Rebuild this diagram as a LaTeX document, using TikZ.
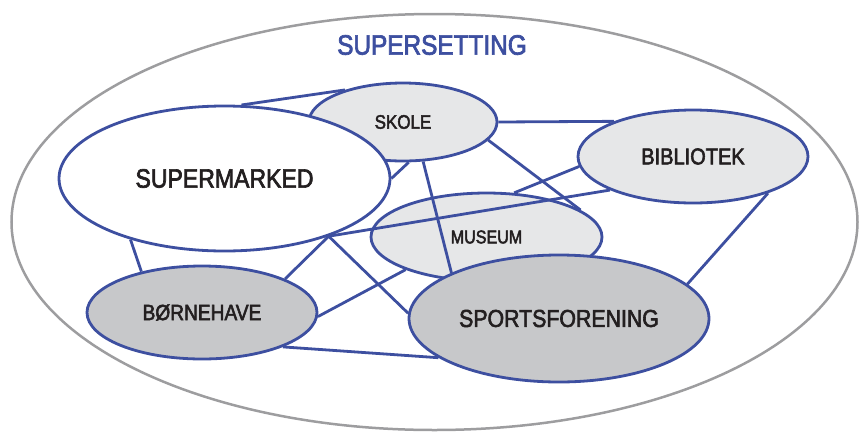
\documentclass[tikz,border=0pt]{standalone}
\usepackage{fontspec}
\setmainfont[FakeStretch=0.87,FakeBold=2.5]{Liberation Sans}
\usetikzlibrary{shapes.geometric}
\definecolor{setblue}{RGB}{61,79,160}
\definecolor{lightfill}{RGB}{230,231,232}
\definecolor{darkfill}{RGB}{199,200,202}
\definecolor{rimgray}{RGB}{157,157,159}
\definecolor{labelblack}{RGB}{35,31,32}
\tikzset{
  setting/.style={ellipse, draw=setblue, line width=2.8pt, inner sep=0pt, text=labelblack},
  link/.style={setblue, line width=2.8pt},
}
\newcommand{\fsize}[1]{\fontsize{#1}{#1}\selectfont}

\begin{document}
\begin{tikzpicture}[x=1pt,y=-1pt]
  \useasboundingbox (0,0) rectangle (860,432);
  \draw[rimgray, line width=2.5pt] (434.5,222) ellipse [x radius=423, y radius=208];
  \node[setblue] (title) at (432,45) {\fsize{28}SUPERSETTING};

  \node[setting, fill=lightfill, minimum width=188, minimum height=78] (skole) at (403,122) {\fsize{19.5}SKOLE};
  \node[setting, fill=white, minimum width=331, minimum height=145] (supermarked) at (224.5,178.5) {\fsize{26.5}SUPERMARKED};
  \node[setting, fill=lightfill, minimum width=230, minimum height=93] (bibliotek) at (693,156.5) {\fsize{23}BIBLIOTEK};
  \node[setting, fill=lightfill, minimum width=231, minimum height=88] (museum) at (486.5,237) {\fsize{18.5}MUSEUM};
  \node[setting, fill=darkfill, minimum width=230, minimum height=93] (bornehave) at (202,312.5) {\fsize{22}BØRNEHAVE};
  \node[setting, fill=darkfill, minimum width=300, minimum height=127] (sport) at (559,318.5) {\fsize{24.5}SPORTSFORENING};

  \draw[link] (supermarked.77.9) -- (skole.151.2);
  \draw[link] (supermarked.-0.5) -- (skole.-82.9);
  \draw[link] (skole.0) -- (bibliotek.156.1);
  \draw[link] (skole.-12) -- (museum.16.2);
  \draw[link] (skole.-63.4) -- (sport.157.6);
  \draw[link] (bibliotek.-175.8) -- (museum.58.9);
  \draw[link] (bibliotek.-158) -- (supermarked.-29.7);
  \draw[link] (supermarked.-29.7) -- (bornehave.22.3);
  \draw[link] (supermarked.-29.7) -- (sport.178.7);
  \draw[link] (supermarked.-147.5) -- (bornehave.146.4);
  \draw[link] (bornehave.-2.8) -- (museum.-158.5);
  \draw[link] (bornehave.-23.6) -- (sport.-162.8);
  \draw[link] (sport.15.5) -- (bibliotek.-26.2);
\end{tikzpicture}
\end{document}
